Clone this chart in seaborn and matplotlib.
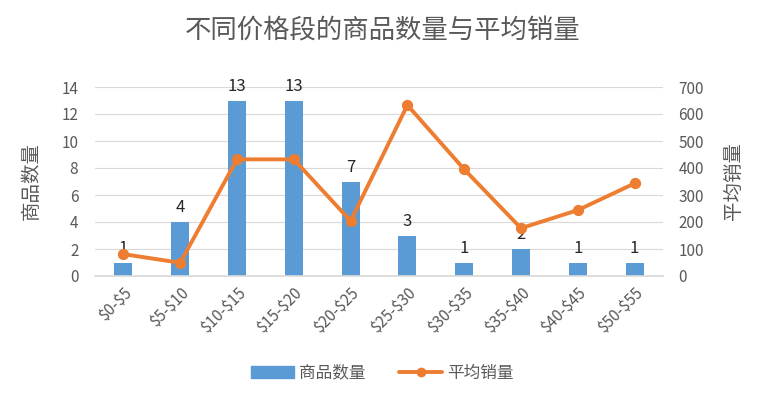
import numpy as np
import pandas as pd
import matplotlib
matplotlib.use("Agg")
import matplotlib.pyplot as plt
import seaborn as sns
from matplotlib.lines import Line2D
from matplotlib.patches import Patch

categories = ["$0-$5", "$5-$10", "$10-$15", "$15-$20", "$20-$25", "$25-$30",
              "$30-$35", "$35-$40", "$40-$45", "$50-$55"]
counts = [1, 4, 13, 13, 7, 3, 1, 2, 1, 1]
avg_sales = [81, 49, 432, 432, 204, 633, 395, 177, 244, 343]
left_ticks = [0, 2, 4, 6, 8, 10, 12, 14]
right_ticks = [0, 100, 200, 300, 400, 500, 600, 700]

sns.set_theme(style="white")
plt.rcParams['font.family'] = ['Noto Sans CJK SC', 'DejaVu Sans']

BLUE = "#5B9BD5"
ORANGE = "#ED7D31"
TXT = "#595959"
GRID = "#D9D9D9"

df = pd.DataFrame({"cat": categories, "count": counts, "sales": avg_sales})

fig = plt.figure(figsize=(7.65, 3.98), dpi=100)
ax = fig.add_axes([95/765, 1-276/398, (663-95)/765, (276-87)/398])
ax2 = ax.twinx()

sns.barplot(data=df, x="cat", y="count", color=BLUE, width=0.32, ax=ax,
            saturation=1, linewidth=0, zorder=2)
ax.set_ylim(0, 14)
ax.set_yticks(left_ticks)
ax.yaxis.grid(True, color=GRID, linewidth=0.8)
ax.set_axisbelow(True)
for c in ax.containers:
    ax.bar_label(c, labels=[str(v) for v in counts], padding=4, fontsize=12, color="#262626")

sns.pointplot(data=df, x="cat", y="sales", color=ORANGE, ax=ax2,
              markers="o", markersize=6, linewidth=2.8)
ax2.set_ylim(0, 700)
ax2.set_yticks(right_ticks)
ax.set_xlim(-0.5, len(categories) - 0.5)
ax2.set_xlim(-0.5, len(categories) - 0.5)

for a in (ax, ax2):
    for s in a.spines.values():
        s.set_visible(False)
    a.tick_params(axis="y", length=0, labelsize=11, labelcolor=TXT)
ax.spines["bottom"].set_visible(True)
ax.spines["bottom"].set_color(GRID)
ax.tick_params(axis="y", pad=12)
ax2.tick_params(axis="y", pad=11)

display_labels = [c.replace("$", r"\$") for c in categories]
ax.set_xticks(range(len(categories)))
ax.set_xticklabels(display_labels, rotation=45, ha="right", rotation_mode="anchor",
                   fontsize=11, color=TXT)
ax.tick_params(axis="x", length=0, pad=6)
ax.set_xlabel("")
ax2.set_xlabel("")
ax.set_ylabel("商品数量", fontsize=14, color=TXT, labelpad=14)
ax2.set_ylabel("平均销量", fontsize=14, color=TXT, rotation=90, labelpad=14)

fig.suptitle("不同价格段的商品数量与平均销量", fontsize=19, color=TXT, y=0.955)

handles = [Patch(facecolor=BLUE, edgecolor=BLUE),
           Line2D([0], [0], color=ORANGE, linewidth=2.8, marker="o", markersize=6)]
fig.legend(handles, ["商品数量", "平均销量"], loc="center", bbox_to_anchor=(0.5, 1-373/398),
           ncol=2, frameon=False, fontsize=12, labelcolor=TXT, handlelength=2.6,
           columnspacing=2.0, handletextpad=0.3)

fig.savefig("out.png", dpi=100)
